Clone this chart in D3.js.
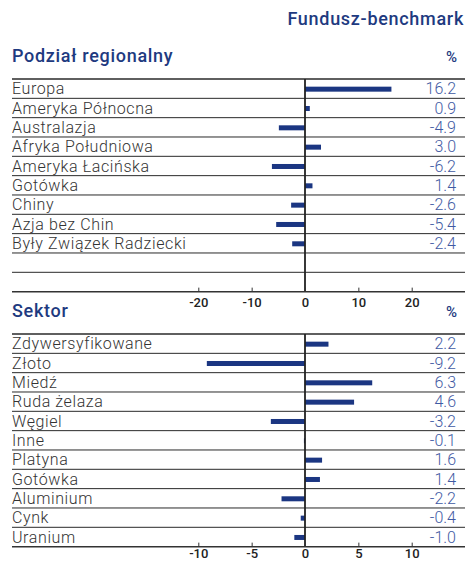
<!DOCTYPE html>
<html>
<head>
<meta charset="utf-8">
<script src="https://cdn.jsdelivr.net/npm/d3@7"></script>
<style>
  html, body { margin: 0; padding: 0; background: #fff; }
  svg { display: block; }
</style>
</head>
<body>
<svg id="chart" width="468" height="562"></svg>
<script>
// regional split, fund minus benchmark (%)
const regionNames = ["Europa", "Ameryka Północna", "Australazja", "Afryka Południowa", "Ameryka Łacińska",
                     "Gotówka", "Chiny", "Azja bez Chin", "Były Związek Radziecki", "", ""];
const regionValues = [16.2, 0.9, -4.9, 3.0, -6.2, 1.4, -2.6, -5.4, -2.4, null, null];
const regionTicks = [-20, -10, 0, 10, 20];

// sector split
const sectorNames = ["Zdywersyfikowane", "Złoto", "Miedź", "Ruda żelaza", "Węgiel", "Inne",
                     "Platyna", "Gotówka", "Aluminium", "Cynk", "Uranium"];
const sectorValues = [2.2, -9.2, 6.3, 4.6, -3.2, -0.1, 1.6, 1.4, -2.2, -0.4, -1.0];
const sectorTicks = [-10, -5, 0, 5, 10];

const svg = d3.select("#chart");

// --- styles ---
const navy = "#1e3a80";
const barColor = "#1b3682";
const valueColor = "#3f5aa3";
const labelColor = "#333";
const lineColor = "#2a2a2a";
const font = "Roboto, 'DejaVu Sans', sans-serif";

const left = 12, right = 465;
const rowH = 19.33;
const barH = 5;

// header
svg.append("text")
    .attr("x", 464).attr("y", 25)
    .attr("text-anchor", "end")
    .style("font-family", font).style("font-weight", 500).style("font-size", "18px")
    .style("letter-spacing", "0.7px")
    .style("fill", navy)
    .text("Fundusz-benchmark");

function drawPanel(opts) {
    const { title, top, names, values, domain, ticks, tickPad } = opts;
    const g = svg.append("g");

    // title + % sign
    g.append("text")
        .attr("x", left).attr("y", top - 17.3)
        .style("font-family", font).style("font-weight", 500).style("font-size", "18px")
        .style("letter-spacing", "0.7px")
        .style("fill", navy)
        .text(title);
    g.append("text")
        .attr("x", 457).attr("y", top - 17)
        .attr("text-anchor", "end")
        .style("font-family", font).style("font-weight", 500).style("font-size", "15px")
        .style("fill", navy)
        .text("%");

    const y = d3.scaleBand()
        .domain(d3.range(names.length))
        .range([top, top + rowH * names.length])
        .paddingInner(0).paddingOuter(0);

    const x = d3.scaleLinear().domain(domain).range([198.3, 411.7]);

    // row separators
    g.append("line")
        .attr("x1", left).attr("x2", right)
        .attr("y1", top).attr("y2", top)
        .style("stroke", lineColor).style("stroke-width", 1.6);
    g.selectAll("line.row")
        .data(d3.range(1, names.length))
        .join("line").attr("class", "row")
        .attr("x1", left).attr("x2", right)
        .attr("y1", d => y(d)).attr("y2", d => y(d))
        .style("stroke", lineColor).style("stroke-width", 1);

    // bars
    const rows = names.map((n, i) => ({ name: n, value: values[i], i: i }));
    g.selectAll("rect.bar")
        .data(rows.filter(d => d.value != null))
        .join("rect").attr("class", "bar")
        .attr("x", d => x(Math.min(0, d.value)))
        .attr("width", d => Math.abs(x(d.value) - x(0)))
        .attr("y", d => y(d.i) + y.bandwidth() / 2 - barH / 2 + 0.5)
        .attr("height", barH)
        .style("fill", barColor);

    // labels
    g.selectAll("text.lab")
        .data(rows)
        .join("text").attr("class", "lab")
        .attr("x", left).attr("y", d => y(d.i) + 15.3)
        .style("font-family", font).style("font-weight", 300).style("font-size", "16px")
        .style("letter-spacing", "0.6px")
        .style("fill", labelColor)
        .text(d => d.name);

    g.selectAll("text.val")
        .data(rows.filter(d => d.value != null))
        .join("text").attr("class", "val")
        .attr("x", 456).attr("y", d => y(d.i) + 15.3)
        .attr("text-anchor", "end")
        .style("font-family", font).style("font-weight", 300).style("font-size", "16px")
        .style("fill", valueColor)
        .text(d => d.value.toFixed(1));

    const bottom = top + rowH * names.length;

    // zero line
    g.append("line")
        .attr("x1", x(0)).attr("x2", x(0))
        .attr("y1", top).attr("y2", bottom)
        .style("stroke", "#222").style("stroke-width", 1.8);

    // axis
    const axis = d3.axisBottom(x).tickValues(ticks).tickSize(-4).tickSizeOuter(0)
        .tickPadding(tickPad).tickFormat(d => String(d));
    const ag = g.append("g").attr("transform", `translate(0,${bottom})`).call(axis);
    ag.select(".domain").remove();
    ag.selectAll(".tick line").style("stroke", "#333");
    ag.selectAll(".tick text")
        .style("font-family", font).style("font-weight", 500).style("font-size", "13px")
        .style("fill", "#222");
    g.append("line")
        .attr("x1", left).attr("x2", right)
        .attr("y1", bottom).attr("y2", bottom)
        .style("stroke", "#333").style("stroke-width", 1.5);
}

drawPanel({ title: "Podział regionalny", top: 79, names: regionNames, values: regionValues,
            domain: [-20, 20], ticks: regionTicks, tickPad: 6.5 });
drawPanel({ title: "Sektor", top: 334, names: sectorNames, values: sectorValues,
            domain: [-10, 10], ticks: sectorTicks, tickPad: 2.5 });
</script>
</body>
</html>
